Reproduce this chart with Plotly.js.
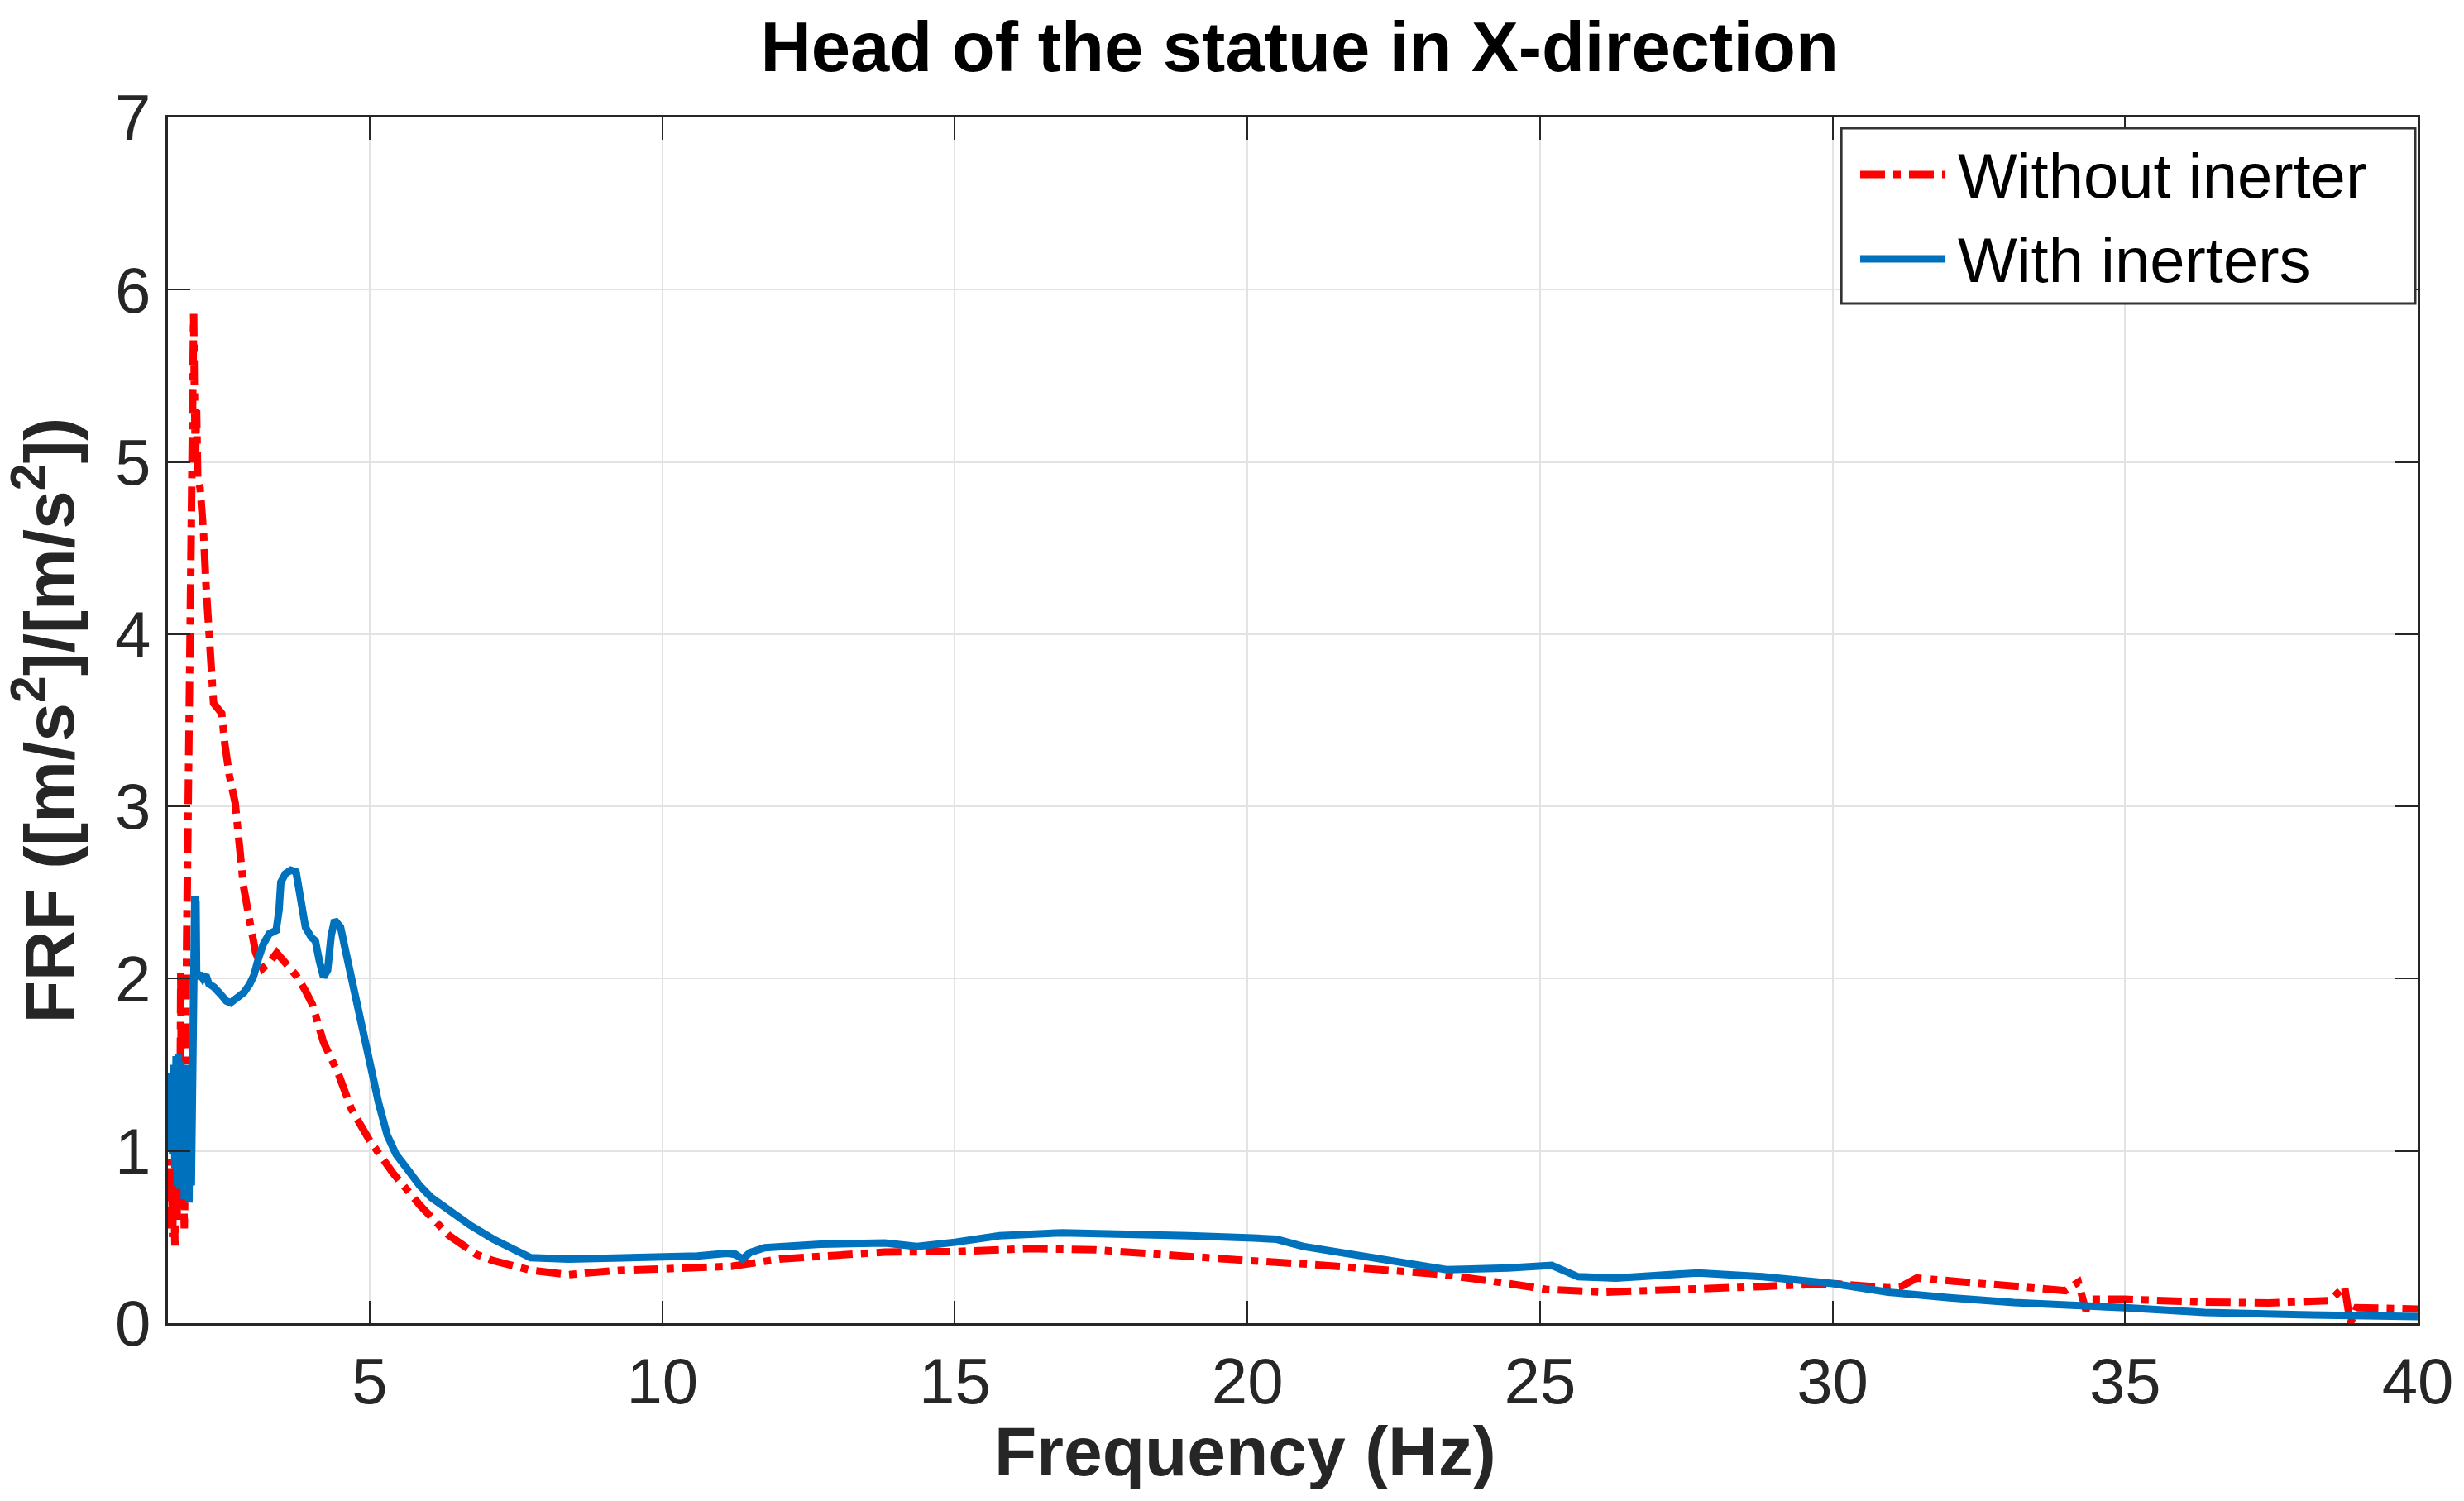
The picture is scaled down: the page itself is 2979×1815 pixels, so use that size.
<!DOCTYPE html>
<html>
<head>
<meta charset="utf-8">
<script src="https://cdn.plot.ly/plotly-3.0.1.min.js"></script>
<style>
  html, body { margin: 0; padding: 0; background: #fff; }
  #chart { width: 2979px; height: 1815px; }
</style>
</head>
<body>
<div id="chart"></div>
<script>
// Without inerter (red, dash-dot)
const freqWithout = [
  1.55, 1.57, 1.59, 1.61, 1.63, 1.65, 1.67, 1.69, 1.71, 1.73, 1.75, 1.77, 1.79, 1.81, 1.83, 1.85,
  1.87, 1.89, 1.91, 1.93, 1.95, 1.97, 1.99, 2.00, 2.02, 2.04, 2.06, 2.10, 2.13, 2.16, 2.20, 2.24,
  2.29, 2.33, 2.40, 2.47, 2.52, 2.60, 2.70, 2.77, 2.84, 2.94, 3.05, 3.17, 3.30, 3.41, 3.55, 3.74,
  3.90, 4.02, 4.21, 4.45, 4.69, 5.00, 5.40, 5.87, 6.35, 6.82, 7.10, 7.53, 7.75, 8.40, 9.26, 10.0,
  11.2, 12.0, 12.8, 13.8, 15.0, 16.3, 17.4, 18.46, 20.0, 21.2, 22.25, 23.35, 24.46, 25.1, 26.1, 27.7,
  28.8, 30.0, 30.95, 31.17, 31.44, 32.0, 33.1, 33.98, 34.2, 34.33, 34.4, 35.0, 36.36, 37.45, 38.5, 38.75,
  38.85, 38.96, 40.0,
];
const frfWithout = [
  0.75, 0.95, 0.55, 0.90, 0.50, 0.85, 0.45, 0.95, 0.60, 1.55, 0.65, 2.05, 0.70, 1.00, 0.55, 0.95,
  2.20, 3.00, 3.80, 4.50, 5.20, 5.60, 5.86, 5.50, 5.00, 5.30, 4.90, 4.85, 4.75, 4.58, 4.29, 4.03,
  3.79, 3.60, 3.57, 3.54, 3.37, 3.18, 3.02, 2.78, 2.54, 2.35, 2.15, 2.06, 2.10, 2.15, 2.10, 2.02,
  1.93, 1.85, 1.63, 1.46, 1.24, 1.06, 0.87, 0.68, 0.51, 0.40, 0.364, 0.33, 0.307, 0.282, 0.307, 0.315,
  0.331, 0.372, 0.389, 0.413, 0.416, 0.433, 0.426, 0.405, 0.364, 0.339, 0.315, 0.282, 0.23, 0.197, 0.18, 0.205,
  0.213, 0.23, 0.205, 0.213, 0.262, 0.246, 0.213, 0.189, 0.238, 0.074, 0.139, 0.139, 0.123, 0.118, 0.131, 0.213,
  0.0, 0.09, 0.082,
];

// With inerters (blue, solid)
const freqWith = [
  1.55, 1.57, 1.59, 1.61, 1.63, 1.65, 1.67, 1.69, 1.71, 1.73, 1.75, 1.77, 1.79, 1.81, 1.83, 1.85,
  1.87, 1.89, 1.91, 1.93, 1.95, 1.97, 1.98, 2.00, 2.01, 2.02, 2.03, 2.04, 2.06, 2.10, 2.15, 2.20,
  2.25, 2.34, 2.45, 2.55, 2.62, 2.72, 2.85, 2.95, 3.02, 3.10, 3.18, 3.28, 3.40, 3.45, 3.48, 3.56,
  3.65, 3.74, 3.80, 3.90, 4.00, 4.07, 4.14, 4.21, 4.28, 4.34, 4.40, 4.50, 4.60, 4.69, 4.85, 5.00,
  5.15, 5.30, 5.45, 5.63, 5.85, 6.05, 6.40, 6.71, 7.10, 7.50, 7.75, 8.40, 9.00, 10.0, 10.6, 11.1,
  11.25, 11.37, 11.5, 11.75, 12.7, 13.8, 14.35, 15.0, 15.76, 16.84, 17.9, 19.0, 20.1, 20.5, 20.95, 21.7,
  22.8, 23.4, 24.46, 25.2, 25.65, 26.3, 27.7, 28.8, 30.0, 30.95, 32.0, 33.1, 35.0, 36.36, 38.0, 40.0,
];
const frfWith = [
  1.20, 1.42, 1.00, 1.45, 0.98, 1.50, 0.90, 1.55, 0.80, 1.56, 0.78, 1.52, 0.82, 1.40, 0.72, 1.48,
  0.75, 1.50, 0.70, 1.35, 0.80, 1.60, 1.90, 2.30, 2.48, 2.20, 2.45, 2.05, 2.00, 2.03, 2.00, 2.02,
  1.97, 1.95, 1.91, 1.87, 1.86, 1.89, 1.92, 1.97, 2.02, 2.12, 2.20, 2.26, 2.28, 2.40, 2.56, 2.61,
  2.63, 2.62, 2.50, 2.30, 2.24, 2.22, 2.10, 2.01, 2.05, 2.25, 2.34, 2.30, 2.14, 2.00, 1.72, 1.50,
  1.28, 1.09, 0.98, 0.90, 0.80, 0.73, 0.64, 0.57, 0.49, 0.42, 0.38, 0.372, 0.375, 0.38, 0.39, 0.405,
  0.40, 0.372, 0.41, 0.438, 0.459, 0.466, 0.446, 0.47, 0.508, 0.525, 0.52, 0.508, 0.495, 0.487, 0.446, 0.405,
  0.348, 0.311, 0.32, 0.336, 0.27, 0.262, 0.292, 0.27, 0.23, 0.18, 0.148, 0.12, 0.09, 0.062, 0.049, 0.038,
];

const seriesNames = ['Without inerter', 'With inerters'];
const xTicks = [5, 10, 15, 20, 25, 30, 35, 40];
const yTicks = [0, 1, 2, 3, 4, 5, 6, 7];

const RED = '#FF0000';
const BLUE = '#0072BD';
const AXIS = '#262626';
const FONT = 'Liberation Sans, Arial, Helvetica, sans-serif';
const DASHDOT = '30px,10px,9px,10px';

const traces = [
  {
    x: freqWithout, y: frfWithout, name: seriesNames[0],
    type: 'scatter', mode: 'lines',
    line: { color: RED, width: 9, dash: DASHDOT },
  },
  {
    x: freqWith, y: frfWith, name: seriesNames[1],
    type: 'scatter', mode: 'lines',
    line: { color: BLUE, width: 9 },
  },
];

// legend drawn by hand so the line samples get MATLAB's length
const legendBox = { x0: 0.7438, x1: 0.9989, y0: 0.8457, y1: 0.9911 };
const legendRows = [0.9527, 0.8827];

const shapes = [
  {
    type: 'rect', xref: 'paper', yref: 'paper',
    x0: legendBox.x0, x1: legendBox.x1, y0: legendBox.y0, y1: legendBox.y1,
    fillcolor: '#FFFFFF', line: { color: '#333333', width: 3 }, layer: 'above',
  },
];
const annotations = [];
traces.forEach((t, i) => {
  shapes.push({
    type: 'line', xref: 'paper', yref: 'paper', layer: 'above',
    x0: 0.7522, x1: 0.7901, y0: legendRows[i], y1: legendRows[i],
    line: { color: t.line.color, width: 9, dash: t.line.dash || 'solid' },
  });
  annotations.push({
    xref: 'paper', yref: 'paper', x: 0.7949, y: legendRows[i] - 0.001,
    xanchor: 'left', yanchor: 'middle', showarrow: false,
    text: t.name, font: { family: FONT, size: 76, color: '#000000' },
  });
});

// x title sits left of centre in the reference, so it is an annotation
annotations.push({
  xref: 'paper', yref: 'paper', x: 0.479, y: -0.106,
  xanchor: 'center', yanchor: 'middle', showarrow: false,
  text: '<b>Frequency (Hz)</b>',
  font: { family: FONT, size: 84, color: AXIS },
});

const layout = {
  width: 2979,
  height: 1815,
  paper_bgcolor: '#FFFFFF',
  plot_bgcolor: '#FFFFFF',
  margin: { l: 203, r: 56, t: 142, b: 215 },
  showlegend: false,
  font: { family: FONT, color: AXIS },
  title: {
    text: '<b>Head of the statue in X-direction</b>',
    font: { family: FONT, size: 85, color: '#000000' },
    x: 0.503, xref: 'paper',
    y: 1 - 56 / 1815, yref: 'container', yanchor: 'middle',
  },
  xaxis: {
    range: [1.55, 40],
    tickvals: xTicks,
    ticktext: xTicks.map(String),
    ticks: 'inside', ticklen: 27, tickwidth: 2, tickcolor: AXIS,
    showline: true, linecolor: AXIS, linewidth: 3, mirror: 'ticks',
    showgrid: true, gridcolor: '#E3E3E3', gridwidth: 2,
    zeroline: false,
    tickfont: { family: FONT, size: 78, color: AXIS },
    ticklabelstandoff: 0,
  },
  yaxis: {
    range: [0, 7],
    tickvals: yTicks,
    ticktext: yTicks.map(String),
    ticks: 'inside', ticklen: 27, tickwidth: 2, tickcolor: AXIS,
    showline: true, linecolor: AXIS, linewidth: 3, mirror: 'ticks',
    showgrid: true, gridcolor: '#E3E3E3', gridwidth: 2,
    zeroline: false,
    tickfont: { family: FONT, size: 78, color: AXIS },
    ticklabelstandoff: 2,
    title: {
      text: '<b>FRF ([m/s<sup>2</sup>]/[m/s<sup>2</sup>])</b>',
      font: { family: FONT, size: 84, color: AXIS },
      standoff: 22,
    },
  },
  shapes,
  annotations,
};

Plotly.newPlot('chart', traces, layout, { staticPlot: true, displayModeBar: false });
</script>
</body>
</html>
